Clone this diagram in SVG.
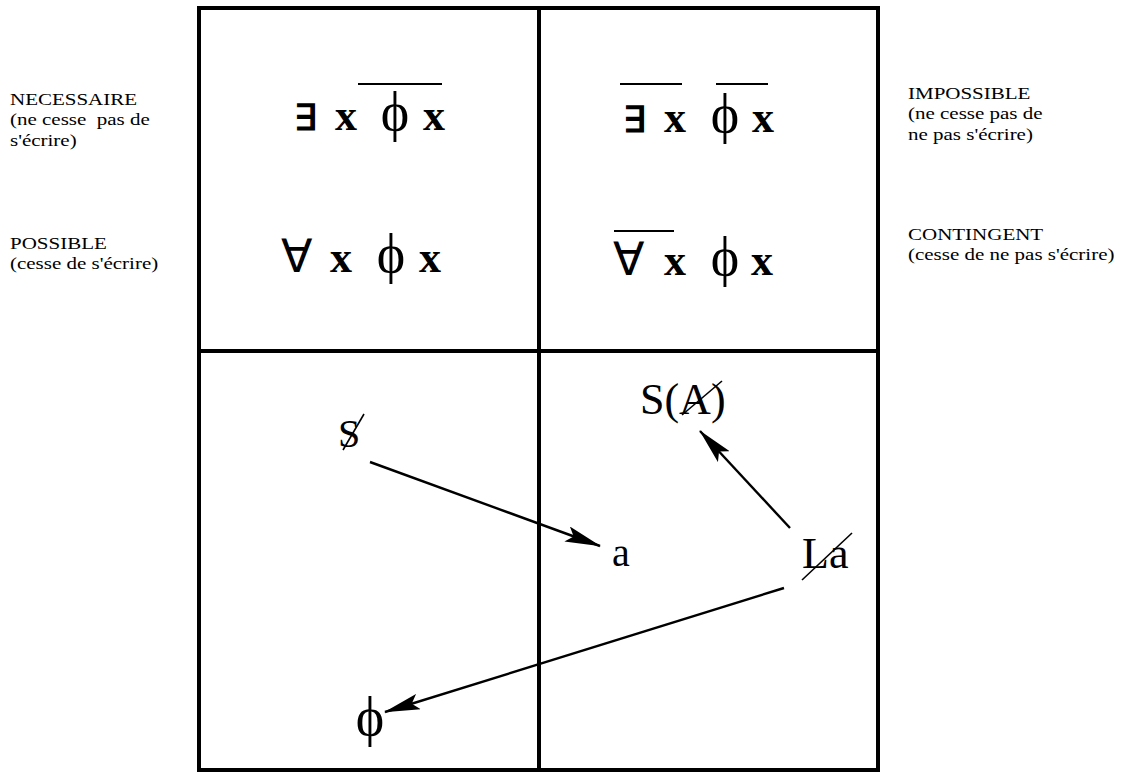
<svg xmlns="http://www.w3.org/2000/svg" width="1128" height="775" viewBox="0 0 1128 775">
<defs>
<marker id="ah" markerWidth="36" markerHeight="16" refX="35" refY="8" orient="auto" markerUnits="userSpaceOnUse" viewBox="0 0 36 16">
<path d="M0,0 L36,8 L0,16 L7,8 Z" fill="#000"/>
</marker>
<style>
.lbl{font-family:"Liberation Serif",serif;font-size:17.5px;fill:#000}
.e{font-family:"Liberation Serif",serif;font-size:36px;font-weight:bold;fill:#000;text-anchor:middle}
.a{font-family:"Liberation Serif",serif;font-size:46px;fill:#000;text-anchor:middle}
.x{font-family:"Liberation Serif",serif;font-size:44px;font-weight:bold;fill:#000;text-anchor:middle}
.p{font-family:"Liberation Serif",serif;font-size:54px;fill:#000;text-anchor:middle}
.b{font-family:"Liberation Serif",serif;font-size:40px;fill:#000}
.bb{font-family:"Liberation Serif",serif;font-size:44px;fill:#000}
.bar{stroke:#000;stroke-width:2}
.sl{stroke:#000;stroke-width:1.6}
.grid{fill:none;stroke:#000;stroke-width:4}
.con{stroke:#000;stroke-width:2.4;fill:none;marker-end:url(#ah)}
</style>
</defs>
<rect width="1128" height="775" fill="#fff"/>
<g id="grid">
<rect class="grid" x="199" y="8" width="679" height="762"/>
<line class="grid" x1="539" y1="8" x2="539" y2="770"/>
<line class="grid" x1="199" y1="351" x2="878" y2="351"/>
</g>
<g id="label-necessaire" transform="matrix(1.2,0,0,1,-2,0)">
<text class="lbl" x="10" y="105">NECESSAIRE</text>
<text class="lbl" x="10" y="125.5">(ne cesse &#160;pas de</text>
<text class="lbl" x="10" y="146">s'écrire)</text>
</g>
<g id="label-possible" transform="matrix(1.2,0,0,1,-2,0)">
<text class="lbl" x="10" y="249">POSSIBLE</text>
<text class="lbl" x="10" y="269.5">(cesse de s'écrire)</text>
</g>
<g id="label-impossible" transform="matrix(1.2,0,0,1,-181.6,0)">
<text class="lbl" x="908" y="99">IMPOSSIBLE</text>
<text class="lbl" x="908" y="119.5">(ne cesse pas de</text>
<text class="lbl" x="908" y="140">ne pas s'écrire)</text>
</g>
<g id="label-contingent" transform="matrix(1.2,0,0,1,-181.6,0)">
<text class="lbl" x="908" y="240">CONTINGENT</text>
<text class="lbl" x="908" y="260.5">(cesse de ne pas s'écrire)</text>
</g>
<g id="f-necessaire">
<text class="e" x="305" y="130">∃</text>
<text class="x" x="346" y="130">x</text>
<text class="p" x="395" y="130">ϕ</text>
<text class="x" x="434" y="130">x</text>
<line class="bar" x1="358" y1="84" x2="442" y2="84"/>
</g>
<g id="f-impossible">
<text class="e" x="634" y="132">∃</text>
<text class="x" x="675" y="132">x</text>
<text class="p" x="725" y="132">ϕ</text>
<text class="x" x="763" y="132">x</text>
<line class="bar" x1="620" y1="84" x2="682" y2="84"/>
<line class="bar" x1="716" y1="84" x2="768" y2="84"/>
</g>
<g id="f-possible">
<text class="a" x="296" y="272">∀</text>
<text class="x" x="341" y="272">x</text>
<text class="p" x="391" y="272">ϕ</text>
<text class="x" x="430" y="272">x</text>
</g>
<g id="f-contingent">
<text class="a" x="628" y="275">∀</text>
<text class="x" x="675" y="275">x</text>
<text class="p" x="725" y="275">ϕ</text>
<text class="x" x="762" y="275">x</text>
<line class="bar" x1="614" y1="231" x2="674" y2="231"/>
</g>
<g id="n-S">
<text class="b" x="338" y="447">S</text>
<line class="sl" x1="343" y1="450" x2="364" y2="414"/>
</g>
<g id="n-a">
<text class="b" x="612" y="566">a</text>
</g>
<g id="n-SA">
<text class="bb" x="640" y="414">S(A)</text>
<line class="sl" x1="682" y1="415" x2="722" y2="381"/>
</g>
<g id="n-La">
<text class="bb" x="802" y="568">La</text>
<line class="sl" x1="802" y1="580" x2="852" y2="533"/>
</g>
<g id="n-phi">
<text class="p" x="370" y="735">ϕ</text>
</g>
<g id="connectors">
<path class="con" d="M370,462 L600,546"/>
<path class="con" d="M790,528 L700,431"/>
<path class="con" d="M784,588 L385,712"/>
</g>
</svg>
